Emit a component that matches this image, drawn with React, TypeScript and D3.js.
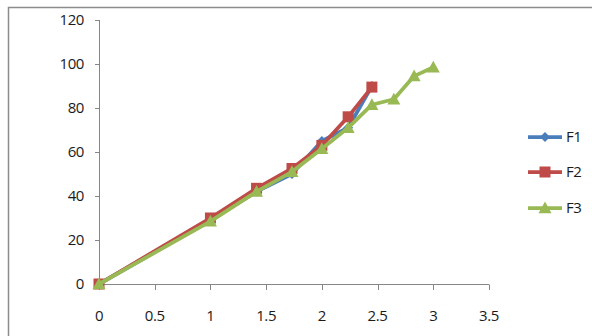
import React from "react";
import * as d3 from "d3";

// x values are square roots of 0..9 (time^0.5)
const xF1 = [0, 1, 1.414, 1.732, 2, 2.236, 2.449];
const yF1 = [0, 29, 42, 50, 65, 71, 90];
const xF2 = [0, 1, 1.414, 1.732, 2, 2.236, 2.449];
const yF2 = [0, 30, 43.5, 52.5, 63, 76, 89.5];
const xF3 = [0, 1, 1.414, 1.732, 2, 2.236, 2.449, 2.646, 2.828, 3];
const yF3 = [0, 28.5, 42, 51, 61.5, 71, 81.5, 84, 94.5, 98.5];

const seriesNames = ["F1", "F2", "F3"];
const xTicks = [0, 0.5, 1, 1.5, 2, 2.5, 3, 3.5];
const yTicks = [0, 20, 40, 60, 80, 100, 120];

const colors = ["#4A7EBB", "#BE4B48", "#98B954"];
const FONT = "'Open Sans', 'Liberation Sans', sans-serif";

type Pt = [number, number];

function Marker({ kind, x, y, color }: { kind: number; x: number; y: number; color: string }) {
  if (kind === 0) {
    const s = 5;
    return <path d={`M${x},${y - s}L${x + s},${y}L${x},${y + s}L${x - s},${y}Z`} fill={color} />;
  }
  if (kind === 1) {
    const s = 5.5;
    return <rect x={x - s} y={y - s} width={2 * s} height={2 * s} fill={color} />;
  }
  const s = 6.5;
  return (
    <path d={`M${x},${y - s}L${x + s},${y + s * 0.8}L${x - s},${y + s * 0.8}Z`} fill={color} />
  );
}

export default function App() {
  const width = 592;
  const height = 336;
  const x = d3.scaleLinear().domain([0, 3.5]).range([99, 489]);
  const y = d3.scaleLinear().domain([0, 120]).range([284, 20]);
  const line = d3
    .line<Pt>()
    .x((d) => x(d[0]))
    .y((d) => y(d[1]));

  const data: Pt[][] = [
    xF1.map((v, i) => [v, yF1[i]] as Pt),
    xF2.map((v, i) => [v, yF2[i]] as Pt),
    xF3.map((v, i) => [v, yF3[i]] as Pt),
  ];

  const axisColor = "#868686";
  const legendY = [137, 172, 208];

  return (
    <svg
      width={width}
      height={height}
      style={{ position: "absolute", left: 0, top: 0, background: "#fff" }}
      fontFamily={FONT}
    >
      {/* chart area frame */}
      <path d={`M8.5,${height + 2}V7.5H${width + 2}`} fill="none" stroke="#8c8c8c" strokeWidth={1.5} />

      {/* y axis */}
      <line x1={99.5} x2={99.5} y1={y(120)} y2={y(0)} stroke={axisColor} />
      {yTicks.map((t) => (
        <g key={t}>
          <line x1={95} x2={99.5} y1={Math.round(y(t)) + 0.5} y2={Math.round(y(t)) + 0.5} stroke={axisColor} />
          <text x={84} y={y(t)} dy="0.36em" textAnchor="end" fontSize={15} letterSpacing={-0.4} fill="#1a1a1a">
            {t}
          </text>
        </g>
      ))}

      {/* x axis */}
      <line x1={99} x2={x(3.5)} y1={284.5} y2={284.5} stroke={axisColor} />
      {xTicks.map((t) => (
        <g key={t}>
          <line x1={Math.round(x(t)) + 0.5} x2={Math.round(x(t)) + 0.5} y1={284.5} y2={290} stroke={axisColor} />
          <text x={x(t)} y={316} dy="0.36em" textAnchor="middle" fontSize={15} letterSpacing={-0.4} fill="#1a1a1a">
            {t}
          </text>
        </g>
      ))}

      {/* series */}
      {data.map((pts, si) => (
        <g key={si}>
          <path d={line(pts) ?? ""} fill="none" stroke={colors[si]} strokeWidth={3.75} strokeLinejoin="round" />
          {pts.map((p, i) => (
            <Marker key={i} kind={si} x={x(p[0])} y={y(p[1])} color={colors[si]} />
          ))}
        </g>
      ))}

      {/* legend */}
      {seriesNames.map((name, i) => (
        <g key={name}>
          <line x1={528} x2={562} y1={legendY[i]} y2={legendY[i]} stroke={colors[i]} strokeWidth={3.75} />
          <Marker kind={i} x={545} y={legendY[i]} color={colors[i]} />
          <text x={566} y={legendY[i]} dy="0.36em" fontSize={15} letterSpacing={-0.4} fill="#1a1a1a">
            {name}
          </text>
        </g>
      ))}
    </svg>
  );
}
